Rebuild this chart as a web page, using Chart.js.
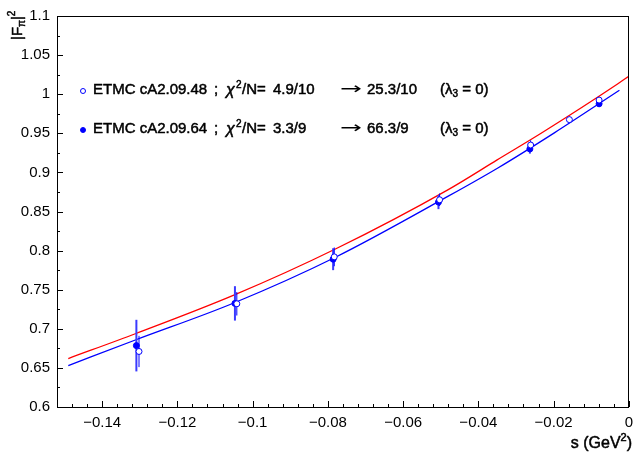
<!DOCTYPE html>
<html><head><meta charset="utf-8">
<script src="https://cdn.jsdelivr.net/npm/chart.js@4"></script>
<style>body{margin:0;background:#fff}canvas{display:block}</style>
</head><body>
<canvas id="c" width="640" height="453"></canvas>
<script>
// ---- data ----
const sOpen   = [-0.1302, -0.1042, -0.0783, -0.0503, -0.0261, -0.0158, -0.0079];
const fOpen   = [0.671, 0.732, 0.792, 0.865, 0.935, 0.9675, 0.9925];
const eOpen   = [0.020, 0.015, 0.012, 0.008, 0.006, 0.004, 0.003];

const sFilled = [-0.1309, -0.1047, -0.0786, -0.0506, -0.0263, -0.0079];
const fFilled = [0.6785, 0.7325, 0.789, 0.862, 0.930, 0.9877];
const eFilled = [0.033, 0.022, 0.014, 0.009, 0.006, 0.004];

const redS  = [-0.149, -0.131, -0.105, -0.078, -0.048, -0.035, -0.023, -0.003, 0];
const redF  = [0.662, 0.694, 0.743, 0.802, 0.878, 0.916, 0.951, 1.013, 1.023];
const blueS = [-0.149, -0.131, -0.105, -0.078, -0.048, -0.0347, -0.0198, -0.0025];
const blueF = [0.653, 0.686, 0.733, 0.7915, 0.8696, 0.906, 0.9506, 1.005];

const xTicks = [-0.14, -0.12, -0.1, -0.08, -0.06, -0.04, -0.02, 0];
const yTicks = [0.6, 0.65, 0.7, 0.75, 0.8, 0.85, 0.9, 0.95, 1, 1.05, 1.1];

const legendNames = ['ETMC cA2.09.48', 'ETMC cA2.09.64'];
const chiBefore   = ['4.9/10', '3.3/9'];
const chiAfter    = ['25.3/10', '66.3/9'];

// ---- helpers ----
const pts = (xs, ys) => xs.map((x, i) => ({x, y: ys[i]}));
const fmt = v => { const a = Number(Math.abs(v).toFixed(3)).toString(); return v < -1e-9 ? '\u2212' + a : a; };
const FONT = '"Liberation Sans", Arial, sans-serif';

const deco = {
  id: 'deco',
  beforeDatasetDraw(chart, args) {
    if (args.index !== 1) return;
    const ctx = chart.ctx, xs = chart.scales.x, ys = chart.scales.y;
    ctx.save();
    const bar = (s, f, e, w, col) => {
      const px = xs.getPixelForValue(s);
      ctx.strokeStyle = col; ctx.lineWidth = w;
      ctx.beginPath();
      ctx.moveTo(px, ys.getPixelForValue(f - e));
      ctx.lineTo(px, ys.getPixelForValue(f + e));
      ctx.stroke();
    };
    sFilled.forEach((s, i) => bar(s, fFilled[i], eFilled[i], 2, '#3a3aff'));
    sOpen.forEach((s, i) => bar(s, fOpen[i], eOpen[i], 1, '#0000ff'));
    ctx.restore();
  },
  afterDraw(chart) {
    const ctx = chart.ctx, a = chart.chartArea, xs = chart.scales.x, ys = chart.scales.y;
    ctx.save();
    // frame
    ctx.strokeStyle = '#000'; ctx.lineWidth = 1;
    ctx.strokeRect(Math.round(a.left) + 0.5, Math.round(a.top) + 0.5,
                   Math.round(a.right - a.left) - 1, Math.round(a.bottom - a.top));
    // ticks inside the frame
    ctx.beginPath();
    for (let k = 0; k <= 38; k++) {
      const v = -0.152 + k * 0.004;
      const vv = Math.round(v * 1000) / 1000;
      if (vv < xs.min - 1e-9 || vv > xs.max + 1e-9) continue;
      const major = Math.abs(Math.round(vv / 0.02) * 0.02 - vv) < 1e-6;
      const px = Math.round(xs.getPixelForValue(vv)) + 0.5;
      ctx.moveTo(px, a.bottom); ctx.lineTo(px, a.bottom - (major ? 6 : 3));
    }
    for (let k = 0; k <= 20; k++) {
      const v = 0.6 + k * 0.025;
      const major = k % 2 === 0;
      const py = Math.round(ys.getPixelForValue(v)) + 0.5;
      ctx.moveTo(a.left, py); ctx.lineTo(a.left + (major ? 6 : 3), py);
    }
    ctx.stroke();

    // text helper with slight emboldening
    ctx.strokeStyle = '#000'; ctx.lineWidth = 0.5; ctx.lineJoin = 'round';
    const T = (s, x, y) => { ctx.fillText(s, x, y); ctx.strokeText(s, x, y); };

    // legend text
    ctx.fillStyle = '#000'; ctx.textBaseline = 'middle'; ctx.textAlign = 'left';
    const rows = [90, 129];
    rows.forEach((y, i) => {
      // marker
      ctx.save();
      ctx.beginPath(); ctx.arc(83, y + 1, 2.5, 0, Math.PI * 2);
      ctx.lineWidth = 1; ctx.strokeStyle = '#0000ff';
      if (i === 0) { ctx.fillStyle = '#fff'; ctx.fill(); ctx.stroke(); }
      else { ctx.fillStyle = '#0000ff'; ctx.fill(); ctx.stroke(); }
      ctx.restore();
      ctx.fillStyle = '#000';
      ctx.font = '15px ' + FONT;
      T(legendNames[i], 93, y);
      T(';', 214, y);
      ctx.font = 'italic 16px ' + FONT;
      T('\u03C7', 226, y + 1);
      ctx.font = '10px ' + FONT;
      T('2', 236, y - 5);
      ctx.font = '15px ' + FONT;
      T('/N=', 242, y);
      T(chiBefore[i], 273, y);
      // arrow
      ctx.save();
      ctx.font = '16px "DejaVu Sans", sans-serif';
      const aw = ctx.measureText('\u2192').width;
      ctx.translate(340, y); ctx.scale(22 / aw, 1);
      ctx.fillText('\u2192', 0, 0);
      ctx.restore();
      ctx.font = '15px ' + FONT;
      T(chiAfter[i], 367, y);
      T('(\u03BB', 440, y);
      let w = ctx.measureText('(\u03BB').width;
      ctx.font = '10px ' + FONT;
      T('3', 440 + w, y + 4);
      let w2 = ctx.measureText('3').width;
      ctx.font = '15px ' + FONT;
      T(' = 0)', 440 + w + w2, y);
    });

    // x title
    const t1 = 's (GeV', t3 = ')';
    ctx.font = '11px ' + FONT; const w2x = ctx.measureText('2').width;
    ctx.font = '16px ' + FONT;
    const w1 = ctx.measureText(t1).width, w3 = ctx.measureText(t3).width;
    let x0 = 632 - (w1 + w2x + w3);
    T(t1, x0, 444);
    ctx.font = '11px ' + FONT; T('2', x0 + w1, 438);
    ctx.font = '16px ' + FONT; T(t3, x0 + w1 + w2x, 444);

    // y title (rotated)
    ctx.save();
    ctx.translate(22, 40); ctx.rotate(-Math.PI / 2);
    ctx.textBaseline = 'alphabetic';
    ctx.font = '15px ' + FONT;
    let cx = 0;
    T('|F', cx, 0); cx += ctx.measureText('|F').width;
    ctx.font = '10px ' + FONT;
    T('\u03C0', cx, 3); cx += ctx.measureText('\u03C0').width;
    ctx.font = '15px ' + FONT;
    T('|', cx, 0); cx += ctx.measureText('|').width;
    ctx.font = '10px ' + FONT;
    T('2', cx, -7);
    ctx.restore();

    ctx.restore();
  }
};

new Chart(document.getElementById('c'), {
  type: 'scatter',
  data: {
    datasets: [
      { label: 'open', data: pts(sOpen, fOpen), pointRadius: 3, pointHoverRadius: 3,
        borderColor: '#0000ff', backgroundColor: '#ffffff', borderWidth: 1, showLine: false },
      { label: 'filled', data: pts(sFilled, fFilled), pointRadius: 3, pointHoverRadius: 3,
        borderColor: '#0000ff', backgroundColor: '#0000ff', borderWidth: 1, showLine: false },
      { label: 'fit48', data: pts(redS, redF), showLine: true, borderColor: '#ff0000',
        borderWidth: 1.3, pointRadius: 0, cubicInterpolationMode: 'monotone', fill: false },
      { label: 'fit64', data: pts(blueS, blueF), showLine: true, borderColor: '#0000ff',
        borderWidth: 1.3, pointRadius: 0, cubicInterpolationMode: 'monotone', fill: false }
    ]
  },
  options: {
    responsive: false, animation: false, devicePixelRatio: 1,
    layout: { padding: { left: 0, right: 9, top: 12, bottom: 0 } },
    plugins: { legend: { display: false }, tooltip: { enabled: false } },
    scales: {
      x: {
        type: 'linear', min: -0.152, max: 0,
        afterBuildTicks: s => { s.ticks = xTicks.map(v => ({value: v})); },
        afterFit: s => { s.height = 46; },
        grid: { display: false, drawTicks: false }, border: { display: false },
        ticks: { callback: v => fmt(v), color: '#000', padding: 7, maxRotation: 0, autoSkip: false,
                 font: { family: FONT, size: 15 } }
      },
      y: {
        type: 'linear', min: 0.6, max: 1.1,
        afterBuildTicks: s => { s.ticks = yTicks.map(v => ({value: v})); },
        afterFit: s => { s.width = 57; },
        grid: { display: false, drawTicks: false }, border: { display: false },
        ticks: { callback: v => fmt(v), color: '#000', padding: 7, autoSkip: false,
                 font: { family: FONT, size: 15 } }
      }
    }
  },
  plugins: [deco]
});
</script>
</body></html>
